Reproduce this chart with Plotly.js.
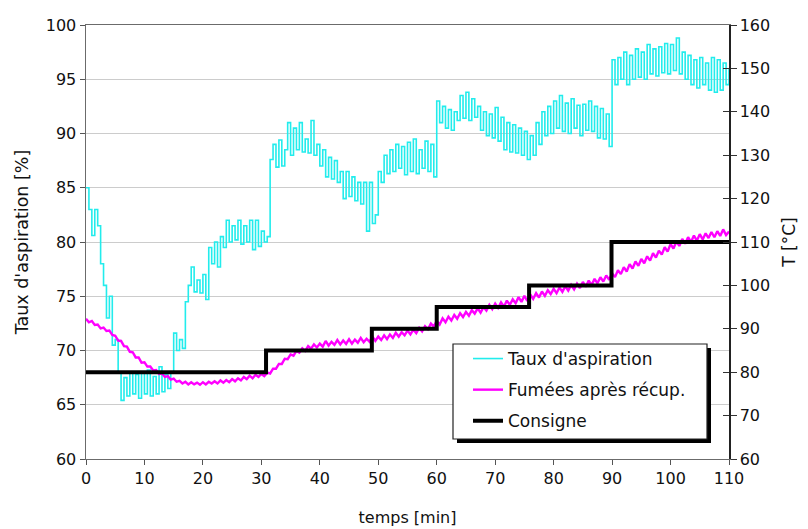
<!DOCTYPE html>
<html>
<head>
<meta charset="utf-8">
<script src="https://cdn.plot.ly/plotly-3.0.1.min.js"></script>
<style>html,body{margin:0;padding:0;background:#fff}#chart{width:808px;height:529px}</style>
</head>
<body>
<div id="chart"></div>
<script>
// Time step of sampled series: 0.5 min, from 0 to 110 min
const timeStart = 0;
const timeStep = 0.5;

// Taux d'aspiration [%] (left axis)
const tauxAspiration = [
  85, 83, 80.6, 83, 81.5, 78, 76, 73, 75, 70.5,
  71, 68, 65.4, 67.5, 65.8, 68, 66, 67.8, 65.6, 68,
  66, 68.2, 65.8, 67.6, 66, 68.5, 66.2, 67.8, 66.5, 68,
  71.6, 70, 71, 70.2, 74.5, 76, 77.7, 75.4, 76.5, 75.3,
  77, 74.7, 79.5, 78, 80, 77.7, 80.5, 79.5, 82, 80,
  81.5, 80.2, 82, 79.8, 81.5, 80, 82, 79.3, 82, 79.6,
  81, 80, 80.5, 87.6, 89, 86.9, 89.4, 87, 88.5, 91,
  88, 90.5, 88.5, 91, 88.3, 89.5, 88.2, 91.2, 88, 89,
  87, 88.5, 86, 87.8, 85.8, 87.5, 85.5, 86.5, 84, 86.5,
  84.2, 86, 83.8, 85.5, 83.5, 85.5, 81, 85.5, 81.7, 82.5,
  86.5, 85.5, 88, 86.3, 88.5, 86.5, 89, 86.8, 88.8, 86.2,
  89.2, 86.5, 89.5, 86.3, 88.5, 86.8, 89.3, 86.5, 89, 86,
  93, 91, 92.5, 90.5, 92.2, 90.3, 92, 91.2, 93.5, 91.4,
  93.8, 91.2, 93.2, 91.5, 92.5, 90.3, 92, 89.8, 91.8, 89.6,
  92.4, 89.3, 91.5, 88.5, 91, 88.3, 90.8, 88.2, 90.5, 88,
  90.2, 87.6, 89.8, 88, 91, 89, 92, 89.8, 92.5, 90,
  93, 90.5, 93.5, 90.2, 92.8, 90, 93.2, 90.5, 92.6, 89.8,
  92.7, 90.3, 93, 90.2, 92.5, 89.6, 92.3, 89.5, 91.8, 88.8,
  96.8, 94.5, 97, 95, 97.5, 94.5, 97.2, 95, 97.8, 95.2,
  97.5, 95, 98.2, 95.5, 97.8, 95.3, 98, 95.6, 98.3, 95.5,
  98.2, 95.8, 98.8, 95.5, 97.5, 95, 97.2, 94.5, 96.8, 94.2,
  97, 94.5, 96.5, 94, 97, 93.8, 96.8, 94, 96.5, 94.5,
  96
];

// Fumées après récup. [°C] (right axis)
const fumeesApresRecup = [
  92.3, 91.5, 91.8, 90.9, 91.0, 90.1, 90.3, 89.5, 89.6, 88.6,
  88.4, 87.3, 87.2, 86.0, 85.9, 84.7, 84.6, 83.4, 83.4, 82.2,
  82.3, 81.3, 81.3, 80.4, 80.5, 79.6, 79.7, 78.9, 79.1, 78.3,
  78.5, 77.8, 78.0, 77.4, 77.8, 77.2, 77.7, 77.2, 77.6, 77.1,
  77.7, 77.2, 77.8, 77.4, 77.9, 77.4, 78.1, 77.6, 78.2, 77.7,
  78.4, 77.9, 78.6, 78.1, 78.9, 78.4, 79.2, 78.6, 79.4, 78.9,
  79.6, 79.1, 79.9, 79.7, 80.8, 80.8, 81.9, 81.9, 83.1, 83.0,
  84.1, 83.8, 84.9, 84.5, 85.5, 84.9, 86.0, 85.4, 86.4, 85.7,
  86.6, 85.9, 87.2, 86.1, 87.0, 86.3, 87.4, 86.4, 87.3, 86.5,
  87.6, 86.6, 87.5, 86.8, 87.9, 86.9, 87.7, 87.0, 88.2, 87.2,
  88.2, 87.4, 88.5, 87.6, 88.7, 87.9, 89.1, 88.2, 89.2, 88.5,
  89.6, 88.7, 89.8, 89.0, 90.2, 89.4, 90.6, 89.9, 91.2, 90.5,
  91.8, 91.0, 92.4, 91.5, 92.8, 91.9, 93.2, 92.3, 93.6, 92.7,
  93.9, 93.0, 94.3, 93.5, 94.7, 93.7, 95.0, 94.2, 95.5, 94.5,
  95.8, 94.8, 96.1, 95.1, 96.5, 95.5, 96.8, 95.9, 97.3, 96.2,
  97.6, 96.4, 97.9, 96.9, 98.2, 97.2, 98.6, 97.6, 98.9, 98.0,
  99.2, 98.2, 99.5, 98.5, 99.8, 98.8, 100.1, 99.1, 100.4, 99.4,
  100.8, 99.7, 101.1, 100.1, 101.5, 100.5, 101.9, 100.9, 102.3, 101.3,
  102.8, 101.9, 103.5, 102.6, 104.2, 103.2, 104.9, 103.9, 105.5, 104.5,
  106.1, 105.1, 106.7, 105.7, 107.4, 106.4, 108.0, 107.1, 108.8, 107.8,
  109.5, 108.5, 110.1, 109.1, 110.7, 109.6, 111.1, 110.0, 111.5, 110.3,
  111.8, 110.6, 112.0, 110.9, 112.3, 111.1, 112.5, 111.4, 112.9, 111.6,
  112.4
];

// Consigne [°C] (right axis), step changes
const consigneTemps = [0, 30.8, 48.9, 60, 75.8, 89.9, 110];
const consigneValeurs = [80, 85, 90, 95, 100, 110, 110];

const seriesNames = ["Taux d'aspiration", "Fumées après récup.", "Consigne"];
const xTitle = "temps [min]";
const yTitle = "Taux d'aspiration [%]";
const y2Title = "T [°C]";

const tAxis = tauxAspiration.map((_, i) => timeStart + i * timeStep);
const tAxisF = fumeesApresRecup.map((_, i) => timeStart + i * timeStep);

const FONT = "DejaVu Sans, Verdana, sans-serif";

const traces = [
  {x: tAxis, y: tauxAspiration, name: seriesNames[0], type: 'scatter', mode: 'lines',
   line: {color: '#22ecec', width: 1.6, shape: 'hv'}, yaxis: 'y', legendgroup: 'a'},
  {x: tAxisF, y: fumeesApresRecup, name: seriesNames[1], type: 'scatter', mode: 'lines',
   line: {color: '#ff00ff', width: 2.4}, yaxis: 'y2', legendgroup: 'b'},
  {x: consigneTemps, y: consigneValeurs, name: seriesNames[2], type: 'scatter', mode: 'lines',
   line: {color: '#000000', width: 4, shape: 'hv'}, yaxis: 'y2', legendgroup: 'c'}
];

const L = 86, R = 729, T = 25, B = 459;
const W = R - L, H = B - T;
const px = v => (v - L) / W;
const py = v => (B - v) / H;

const layout = {
  width: 808, height: 529,
  margin: {l: L, r: 808 - R, t: T, b: 529 - B},
  paper_bgcolor: '#ffffff', plot_bgcolor: '#ffffff',
  font: {family: FONT, size: 16, color: '#111'},
  showlegend: true,
  legend: {x: px(468), y: py(341), xanchor: 'left', yanchor: 'top',
           bgcolor: 'rgba(0,0,0,0)', borderwidth: 0,
           font: {family: FONT, size: 17, color: '#111'},
           traceorder: 'grouped', tracegroupgap: 6},
  xaxis: {range: [0, 110], dtick: 10, tick0: 0, showgrid: false, zeroline: false,
          showline: true, linecolor: '#6b6b6b', linewidth: 1.2, mirror: true,
          ticks: 'outside', ticklen: 5, tickcolor: '#555',
          tickfont: {family: FONT, size: 16, color: '#111'},
          title: {text: xTitle, font: {family: FONT, size: 16, color: '#111'}, standoff: 24}},
  yaxis: {range: [60, 100], dtick: 5, tick0: 60, showgrid: true, gridcolor: '#cccccc', gridwidth: 1,
          zeroline: false, showline: true, linecolor: '#6b6b6b', linewidth: 1.5,
          ticks: 'outside', ticklen: 5, tickcolor: '#555',
          tickfont: {family: FONT, size: 16, color: '#111'},
          title: {text: yTitle, font: {family: FONT, size: 17.5, color: '#111'}, standoff: 12}},
  yaxis2: {range: [60, 160], dtick: 10, tick0: 60, overlaying: 'y', side: 'right', anchor: 'x',
           showgrid: false, zeroline: false, showline: true, linecolor: '#222', linewidth: 1.5,
           ticks: 'outside', ticklen: 6, tickcolor: '#333',
           tickfont: {family: FONT, size: 16, color: '#111'},
           title: {text: y2Title, font: {family: FONT, size: 17, color: '#111'}, standoff: 14}},
  yaxis3: {range: [60, 160], dtick: 10, tick0: 60, overlaying: 'y', side: 'right', anchor: 'x',
           showgrid: false, zeroline: false, showline: false, showticklabels: false,
           ticks: 'inside', ticklen: 6, tickcolor: '#333'},
  shapes: [
    {type: 'rect', xref: 'paper', yref: 'paper', x0: px(457), x1: px(711), y0: py(443), y1: py(348),
     fillcolor: '#000', line: {width: 0}, layer: 'above'},
    {type: 'rect', xref: 'paper', yref: 'paper', x0: px(453), x1: px(707), y0: py(439), y1: py(344),
     fillcolor: '#fff', line: {color: '#222', width: 1.2}, layer: 'above'}
  ]
};

// dummy trace to activate yaxis3 (no visible marks)
traces.push({x: [], y: [], yaxis: 'y3', showlegend: false, hoverinfo: 'skip', type: 'scatter', mode: 'lines'});

Plotly.newPlot('chart', traces, layout, {displayModeBar: false, staticPlot: true});
</script>
</body>
</html>
